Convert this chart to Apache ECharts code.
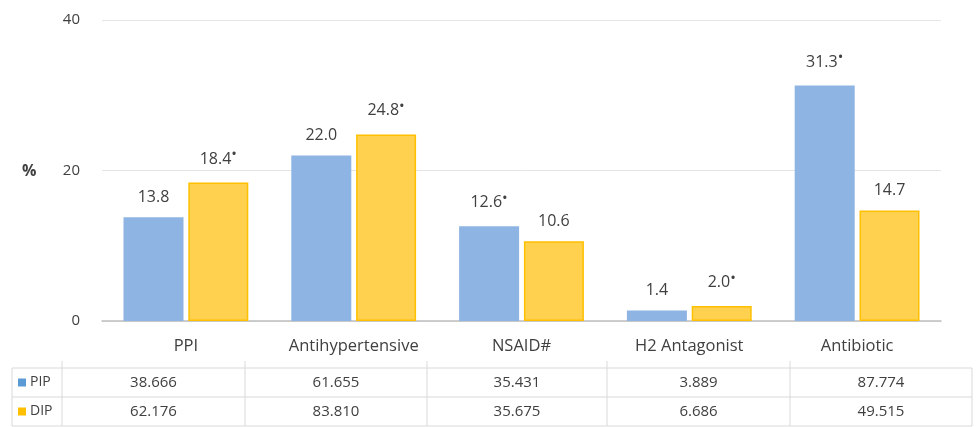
<!DOCTYPE html>
<html>
<head>
<meta charset="utf-8">
<script src="https://cdn.jsdelivr.net/npm/echarts@6/dist/echarts.min.js"></script>
<style>
html,body{margin:0;padding:0;background:#fff;}
#chart{width:976px;height:427px;}
</style>
</head>
<body>
<div id="chart"></div>
<script>
const categories = ['PPI', 'Antihypertensive', 'NSAID#', 'H2 Antagonist', 'Antibiotic'];
const seriesNames = ['PIP', 'DIP'];
const pipValues = [13.8, 22.0, 12.6, 1.4, 31.3];
const dipValues = [18.4, 24.8, 10.6, 2.0, 14.7];
const pipSignificant = [false, false, true, false, true];
const dipSignificant = [true, true, false, true, false];
const pipTable = ['38.666', '61.655', '35.431', '3.889', '87.774'];
const dipTable = ['62.176', '83.810', '35.675', '6.686', '49.515'];
const yTicks = [0, 20, 40];

const FONT = '"Open Sans", "Noto Sans", sans-serif';
const TXT = '#404040';
const BLUE = '#8DB4E2';
const YELLOW = '#FFD14F';

const chart = echarts.init(document.getElementById('chart'));

function labelFormatter(sig) {
  return function (p) {
    const v = p.value.toFixed(1);
    return sig[p.dataIndex] ? v + '{s|•}' : v;
  };
}

const labelBase = {
  show: true,
  position: 'top',
  distance: 12,
  color: TXT,
  fontFamily: FONT,
  fontSize: 16,
  rich: { s: { fontSize: 15, color: TXT, fontFamily: FONT, verticalAlign: 'top', padding: [0, 0, 8, 0] } }
};

// table layout
const colEdges = [12, 62, 245, 427, 607, 790, 972];
const rowEdges = [368, 397, 426];
const graphics = [];
const lineStyle = { stroke: '#D9D9D9', lineWidth: 1 };
rowEdges.forEach(y => graphics.push({ type: 'line', shape: { x1: colEdges[0], y1: y, x2: colEdges[colEdges.length - 1], y2: y }, style: lineStyle, silent: true }));
colEdges.forEach((x, i) => graphics.push({ type: 'line', shape: { x1: x, y1: (i === 0 || i === colEdges.length - 1) ? rowEdges[0] : 361, x2: x, y2: rowEdges[2] }, style: lineStyle, silent: true }));
const tableRows = [pipTable, dipTable];
const rowColors = ['#5B9BD5', '#FFC000'];
tableRows.forEach((row, r) => {
  const cy = (rowEdges[r] + rowEdges[r + 1]) / 2;
  graphics.push({ type: 'rect', shape: { x: 18, y: cy - 4, width: 8, height: 8 }, style: { fill: rowColors[r] }, silent: true });
  graphics.push({ type: 'text', x: 30, y: cy, style: { text: seriesNames[r], fill: TXT, font: '14px ' + FONT, textVerticalAlign: 'middle', textAlign: 'left' }, silent: true });
  row.forEach((val, c) => {
    graphics.push({ type: 'text', x: (colEdges[c + 1] + colEdges[c + 2]) / 2, y: cy, style: { text: val, fill: TXT, font: '15px ' + FONT, textAlign: 'center', textVerticalAlign: 'middle' }, silent: true });
  });
});
graphics.push({ type: 'text', x: 22, y: 171, style: { text: '%', fill: TXT, font: 'bold 16px ' + FONT, textVerticalAlign: 'middle', textAlign: 'left' }, silent: true });

chart.setOption({
  animation: false,
  backgroundColor: '#fff',
  grid: { left: 102, right: 35, top: 20, bottom: 106 },
  xAxis: {
    type: 'category',
    data: categories,
    axisLine: { lineStyle: { color: '#BFBFBF', width: 1.5 } },
    axisTick: { show: false },
    axisLabel: { color: TXT, fontFamily: FONT, fontSize: 16.5, margin: 17, interval: 0, hideOverlap: false }
  },
  yAxis: {
    type: 'value',
    min: yTicks[0],
    max: yTicks[yTicks.length - 1],
    interval: 20,
    axisLine: { show: false },
    axisTick: { show: false },
    splitLine: { lineStyle: { color: '#E5E5E5' } },
    axisLabel: { color: TXT, fontFamily: FONT, fontSize: 15, margin: 22 }
  },
  series: [
    {
      name: seriesNames[0], type: 'bar', data: pipValues, barWidth: 60, barGap: '8%',
      itemStyle: { color: BLUE },
      label: Object.assign({}, labelBase, { formatter: labelFormatter(pipSignificant) })
    },
    {
      name: seriesNames[1], type: 'bar', data: dipValues, barWidth: 60,
      itemStyle: { color: YELLOW, borderColor: '#FFC000', borderWidth: 1.5 },
      label: Object.assign({}, labelBase, { formatter: labelFormatter(dipSignificant) })
    }
  ],
  graphic: graphics
});
</script>
</body>
</html>
